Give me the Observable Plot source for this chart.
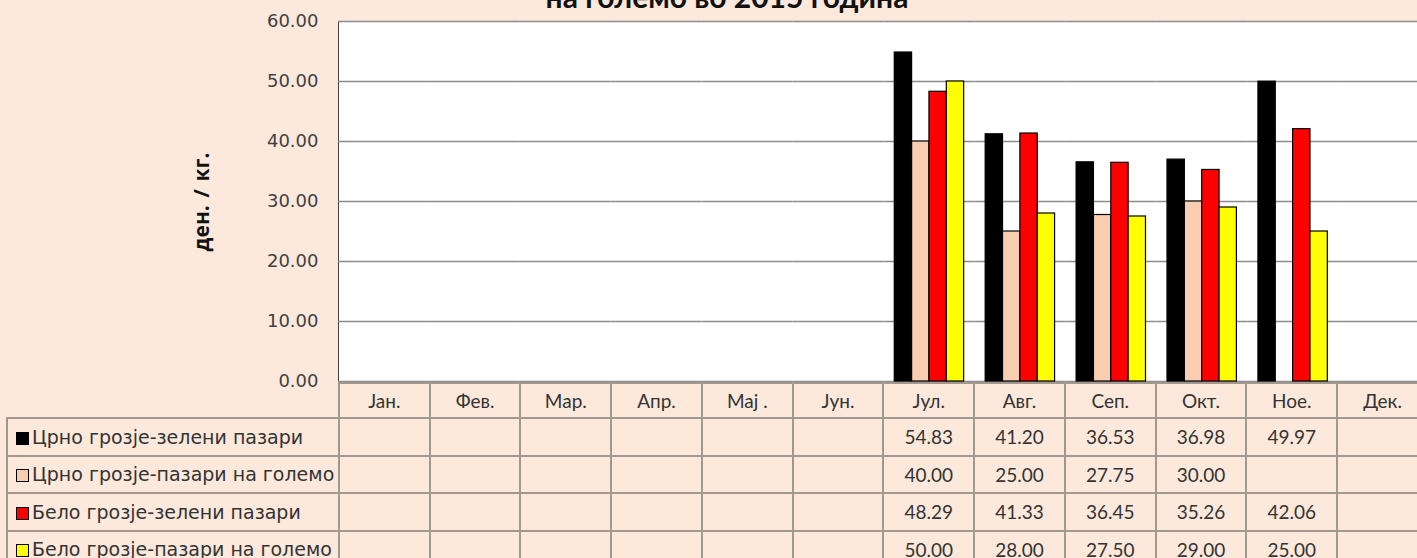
<!DOCTYPE html>
<html>
<head>
<meta charset="utf-8">
<script src="https://cdn.jsdelivr.net/npm/d3@7"></script>
<script src="https://cdn.jsdelivr.net/npm/@observablehq/plot@0.6"></script>
<style>
  html, body { margin: 0; padding: 0; background: #fce9dc; overflow: hidden; }
  #wrap { position: relative; width: 1429px; height: 558px; }
  #title { position: absolute; top: -19px; left: 727px; transform: translateX(-50%); white-space: nowrap;
           font-family: Lato, sans-serif; font-weight: bold; font-size: 30px; line-height: 30px; color: #111; }
  #ylabel { position: absolute; left: 201px; top: 202px; transform: translate(-50%, -50%) rotate(-90deg);
            white-space: nowrap; font-family: "Open Sans", sans-serif; font-weight: bold; font-size: 21px; word-spacing: 2px; color: #111; }
  #chart svg { display: block; }
  #tbl { position: absolute; left: 6px; top: 382px; border-collapse: collapse; table-layout: fixed; }
  #tbl td { border: 2px solid #a39890; padding: 0; text-align: center; font-family: Lato, sans-serif; font-size: 19px; color: #333; }
  #tbl tr.head td { height: 33px; }
  #tbl tr.row td { height: 35.5px; }
  #tbl td.blank { border: none; }
  #tbl td.lab { text-align: left; padding-left: 8px; font-family: "DejaVu Sans", sans-serif; font-size: 19px; white-space: nowrap; overflow: hidden; }
  .sw { display: inline-block; width: 11px; height: 11px; border: 1px solid #000; margin-right: 3px; vertical-align: -1px; }
</style>
</head>
<body>
<div id="wrap">
  <div id="chart"></div>
  <div id="title">на големо во 2015 година</div>
  <div id="ylabel">ден. / кг.</div>
</div>
<script>
const months = ["Јан.", "Фев.", "Мар.", "Апр.", "Мај .", "Јун.", "Јул.", "Авг.", "Сеп.", "Окт.", "Ное.", "Дек."];
const seriesNames = ["Црно грозје-зелени пазари", "Црно грозје-пазари на големо", "Бело грозје-зелени пазари", "Бело грозје-пазари на големо"];
const seriesColors = ["#000000", "#f8cdb0", "#ff0000", "#ffff00"];
const blackGreen = [null, null, null, null, null, null, 54.83, 41.20, 36.53, 36.98, 49.97, null];
const blackWholesale = [null, null, null, null, null, null, 40.00, 25.00, 27.75, 30.00, null, null];
const whiteGreen = [null, null, null, null, null, null, 48.29, 41.33, 36.45, 35.26, 42.06, null];
const whiteWholesale = [null, null, null, null, null, null, 50.00, 28.00, 27.50, 29.00, 25.00, null];
const yTicks = [0, 10, 20, 30, 40, 50, 60];

const seriesValues = [blackGreen, blackWholesale, whiteGreen, whiteWholesale];
const data = [];
seriesNames.forEach((s, si) => months.forEach((m, mi) => {
  const v = seriesValues[si][mi];
  if (v != null) data.push({month: m, series: s, value: v});
}));
// gridlines for every month facet (so that empty months are drawn too)
const grid = months.flatMap(m => yTicks.map(t => ({month: m, tick: t})));

const chart = Plot.plot({
  width: 1429,
  height: 383,
  marginTop: 21,
  marginBottom: 2,
  marginLeft: 338,
  marginRight: 0,
  style: {fontFamily: "DejaVu Sans, sans-serif", fontSize: "18px", color: "#404040", background: "transparent", maxWidth: "none", overflow: "visible"},
  fx: {domain: months, padding: 0, round: false, axis: null, label: null},
  x: {domain: seriesNames, paddingInner: 0, paddingOuter: 0.62, round: false, axis: null},
  y: {domain: [0, 60], ticks: yTicks, tickFormat: d => d.toFixed(2), tickSize: 0, tickPadding: 20, label: null, line: true},
  color: {domain: seriesNames, range: seriesColors},
  marks: [
    Plot.frame({fill: "white", stroke: "none", shapeRendering: "crispEdges"}),
    Plot.ruleY(grid, {fx: "month", y: "tick", stroke: "#8c8c8c", strokeWidth: 1.3}),
    Plot.barY(data, {fx: "month", x: "series", y: "value", fill: "series", stroke: "#000", strokeWidth: 1.2})
  ]
});
document.getElementById("chart").appendChild(chart);

// data table beneath the chart
const tbl = document.createElement("table");
tbl.id = "tbl";
const colgroup = document.createElement("colgroup");
const c0 = document.createElement("col"); c0.style.width = "332px"; colgroup.appendChild(c0);
months.forEach(() => { const c = document.createElement("col"); c.style.width = (1091 / 12) + "px"; colgroup.appendChild(c); });
tbl.appendChild(colgroup);
const head = document.createElement("tr"); head.className = "head";
const hb = document.createElement("td"); hb.className = "blank"; head.appendChild(hb);
months.forEach(m => { const td = document.createElement("td"); td.textContent = m; head.appendChild(td); });
tbl.appendChild(head);
seriesNames.forEach((s, si) => {
  const tr = document.createElement("tr"); tr.className = "row";
  const lab = document.createElement("td"); lab.className = "lab";
  const sw = document.createElement("span"); sw.className = "sw"; sw.style.background = seriesColors[si];
  lab.appendChild(sw); lab.appendChild(document.createTextNode(s));
  tr.appendChild(lab);
  seriesValues[si].forEach(v => { const td = document.createElement("td"); td.textContent = v == null ? "" : v.toFixed(2); tr.appendChild(td); });
  tbl.appendChild(tr);
});
document.getElementById("wrap").appendChild(tbl);
</script>
</body>
</html>
